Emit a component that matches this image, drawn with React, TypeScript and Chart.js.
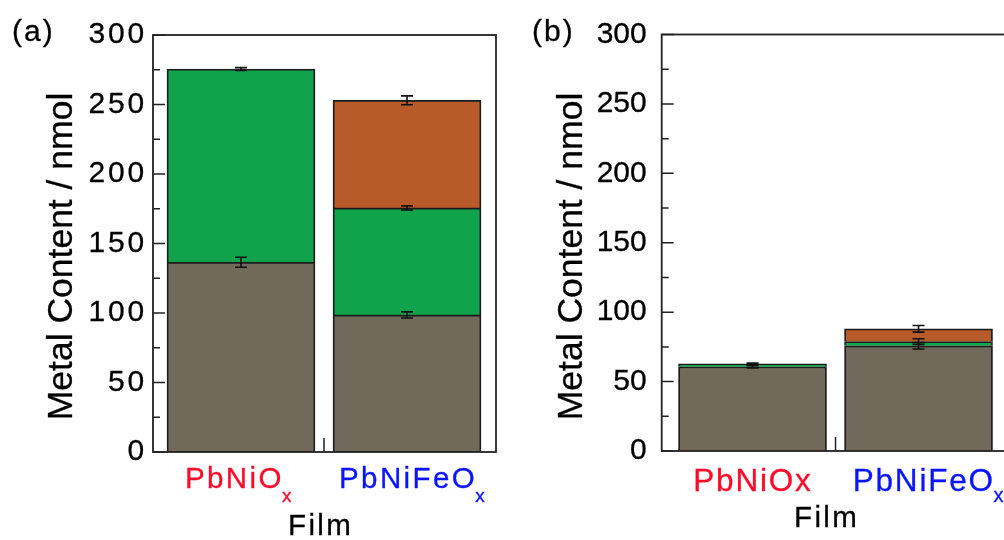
import React, { useEffect, useRef } from "react";
import { Chart, registerables } from "chart.js";

Chart.register(...registerables);

// ---------- data ----------
const films = ["PbNiOx", "PbNiFeOx"];
const seriesNames = ["Pb", "Ni", "Fe"];

// panel (a)
const pbA: (number | null)[] = [136.5, 98.6];
const niA: (number | null)[] = [139, 77];
const feA: (number | null)[] = [null, 77.4];
const pbErrA = [3.6, 2.2];
const niErrA = [1, 1.5];
const feErrA = [0, 3.2];
const xMainA = ["PbNiO", "PbNiFeO"];
const xSubA = ["x", "x"];

// panel (b)
const pbB: (number | null)[] = [60.7, 75.8];
const niB: (number | null)[] = [2, 3];
const feB: (number | null)[] = [null, 9.2];
const pbErrB = [0.8, 2.3];
const niErrB = [0.6, 2];
const feErrB = [0, 2.4];
const xMainB = ["PbNiOx", "PbNiFeO"];
const xSubB = ["", "x"];

const yMin = 0;
const yMax = 300;
const yStep = 50;
const yMinorStep = 25;

const yTitle = "Metal Content / nmol";
const xTitle = "Film";

// ---------- styles ----------
const COLORS = ["#716a5a", "#11a34b", "#b85a2a"];
const LABEL_COLORS = ["#ff0a2a", "#0a14ff"];
const FONT = '"Liberation Sans", Arial, sans-serif';
const TEXT_STROKE = 0.3;

type Panel = {
  tag: string;
  series: (number | null)[][];
  errors: number[][];
  xMain: string[];
  xSub: string[];
  canvasLeft: number;
  width: number;
  axisWidth: number;
  padTop: number;
  padBottom: number;
  padRight: number;
  xMin: number;
  xMax: number;
  tickPad: number;
  tickSpacing: number;
  tagX: number;
  titleX: number;
  labelOffsets: number[];
  labelSize: number;
  labelSpacing: number;
  labelBase: number;
  subSize: number;
  subBase: number;
  filmX: number;
  filmBase: number;
};

const PANEL_A: Panel = {
  tag: "(a)",
  series: [pbA, niA, feA],
  errors: [pbErrA, niErrA, feErrA],
  xMain: xMainA,
  xSub: xSubA,
  canvasLeft: 0,
  width: 500,
  axisWidth: 153,
  padTop: 35,
  padBottom: 88,
  padRight: 4,
  xMin: -0.53,
  xMax: 1.536,
  tickPad: 6,
  tickSpacing: 2.8,
  tagX: 12,
  titleX: 72,
  labelOffsets: [-56, -68],
  labelSize: 29.5,
  labelSpacing: 2.4,
  labelBase: 488,
  subSize: 19,
  subBase: 502,
  filmX: 288,
  filmBase: 535,
};

const PANEL_B: Panel = {
  tag: "(b)",
  series: [pbB, niB, feB],
  errors: [pbErrB, niErrB, feErrB],
  xMain: xMainB,
  xSub: xSubB,
  canvasLeft: 500,
  width: 520,
  axisWidth: 161.7,
  padTop: 34.5,
  padBottom: 89,
  padRight: 10,
  xMin: -0.547,
  xMax: 1.551,
  tickPad: 15,
  tickSpacing: 0,
  tagX: 32,
  titleX: 81.7,
  labelOffsets: [-59.2, -65.8],
  labelSize: 31.5,
  labelSpacing: 1.8,
  labelBase: 491,
  subSize: 20,
  subBase: 502,
  filmX: 294,
  filmBase: 527,
};

function drawText(ctx: CanvasRenderingContext2D, s: string, x: number, y: number) {
  ctx.fillText(s, x, y);
  ctx.lineWidth = TEXT_STROKE;
  ctx.strokeStyle = ctx.fillStyle as string;
  ctx.strokeText(s, x, y);
}

function makeChart(canvas: HTMLCanvasElement, p: Panel) {
  const decor = {
    id: "decor" + p.tag,
    beforeDraw(chart: any) {
      (chart.ctx as any).letterSpacing = p.tickSpacing + "px";
    },
    afterDatasetsDraw(chart: any) {
      const ctx = chart.ctx as CanvasRenderingContext2D;
      const ys = chart.scales.y;
      const xs = chart.scales.x;
      const ca = chart.chartArea;
      ctx.save();
      // error bars
      ctx.strokeStyle = "#111";
      ctx.lineWidth = 1.6;
      for (let i = 0; i < films.length; i++) {
        let cum = 0;
        const cx = xs.getPixelForValue(i);
        for (let s = 0; s < p.series.length; s++) {
          const v = p.series[s][i];
          if (v == null) continue;
          cum += v;
          const e = p.errors[s][i];
          if (!e) continue;
          const y1 = ys.getPixelForValue(cum + e);
          const y2 = ys.getPixelForValue(cum - e);
          ctx.beginPath();
          ctx.moveTo(cx, y1);
          ctx.lineTo(cx, y2);
          ctx.moveTo(cx - 6, y1);
          ctx.lineTo(cx + 6, y1);
          ctx.moveTo(cx - 6, y2);
          ctx.lineTo(cx + 6, y2);
          ctx.stroke();
        }
      }
      // frame
      ctx.strokeStyle = "#222";
      ctx.lineWidth = 1.8;
      ctx.strokeRect(ca.left, ca.top, ca.right - ca.left, ca.bottom - ca.top);
      // inward ticks on y axis
      ctx.lineWidth = 1.5;
      ctx.beginPath();
      for (let v = yMin; v <= yMax; v += yMinorStep) {
        const y = ys.getPixelForValue(v);
        const len = v % yStep === 0 ? 12 : 7;
        ctx.moveTo(ca.left, y);
        ctx.lineTo(ca.left + len, y);
      }
      // category boundary tick
      const bx = xs.getPixelForValue(0.5);
      ctx.moveTo(bx, ca.bottom);
      ctx.lineTo(bx, ca.bottom - 14);
      ctx.stroke();
      ctx.restore();
    },
    afterDraw(chart: any) {
      const ctx = chart.ctx as CanvasRenderingContext2D;
      const xs = chart.scales.x;
      ctx.save();
      ctx.textBaseline = "alphabetic";
      ctx.textAlign = "left";
      ctx.fillStyle = "#000";
      // panel tag
      (ctx as any).letterSpacing = "2px";
      ctx.font = `30px ${FONT}`;
      drawText(ctx, p.tag, p.tagX, 41);
      // x labels
      for (let i = 0; i < films.length; i++) {
        const x0 = xs.getPixelForValue(i) + p.labelOffsets[i];
        ctx.fillStyle = LABEL_COLORS[i];
        (ctx as any).letterSpacing = p.labelSpacing + "px";
        ctx.font = `${p.labelSize}px ${FONT}`;
        drawText(ctx, p.xMain[i], x0, p.labelBase);
        const w = ctx.measureText(p.xMain[i]).width;
        if (p.xSub[i]) {
          (ctx as any).letterSpacing = "0px";
          ctx.font = `${p.subSize}px ${FONT}`;
          drawText(ctx, p.xSub[i], x0 + w - p.labelSpacing + 0.5, p.subBase);
        }
      }
      // x title
      ctx.fillStyle = "#000";
      (ctx as any).letterSpacing = "2.4px";
      ctx.font = `29.5px ${FONT}`;
      drawText(ctx, xTitle, p.filmX, p.filmBase);
      // y title
      (ctx as any).letterSpacing = "0px";
      ctx.font = `35.5px ${FONT}`;
      ctx.textAlign = "center";
      ctx.translate(p.titleX, 256.5);
      ctx.rotate(-Math.PI / 2);
      drawText(ctx, yTitle, 0, 0);
      ctx.restore();
    },
  };

  return new Chart(canvas, {
    type: "bar",
    data: {
      datasets: p.series.map((arr, s) => ({
        label: seriesNames[s],
        data: arr.map((v, i) => ({ x: i, y: v })),
        backgroundColor: COLORS[s],
        borderColor: "#1c1c1c",
        borderWidth: 1.8,
        barThickness: 148,
        stack: "s",
      })) as any,
    },
    options: {
      responsive: false,
      animation: false,
      devicePixelRatio: 1,
      layout: {
        padding: { left: 0, right: p.padRight, top: p.padTop, bottom: p.padBottom },
      },
      plugins: {
        legend: { display: false },
        tooltip: { enabled: false },
      },
      scales: {
        x: {
          type: "linear",
          min: p.xMin,
          max: p.xMax,
          offset: false,
          display: false,
        },
        y: {
          type: "linear",
          min: yMin,
          max: yMax,
          stacked: true,
          position: "left",
          grid: { display: false, drawTicks: false },
          border: { display: false },
          ticks: {
            stepSize: yStep,
            padding: p.tickPad,
            color: "#000",
            textStrokeColor: "#000",
            textStrokeWidth: TEXT_STROKE,
            font: { family: FONT, size: 30 },
          },
          afterFit: (scale: any) => {
            scale.width = p.axisWidth;
          },
        },
      },
    } as any,
    plugins: [decor as any],
  });
}

export default function App() {
  const refA = useRef<HTMLCanvasElement>(null);
  const refB = useRef<HTMLCanvasElement>(null);

  useEffect(() => {
    const a = makeChart(refA.current!, PANEL_A);
    const b = makeChart(refB.current!, PANEL_B);
    return () => {
      a.destroy();
      b.destroy();
    };
  }, []);

  return (
    <div
      style={{
        position: "fixed",
        left: 0,
        top: 0,
        width: 1004,
        height: 540,
        overflow: "hidden",
        background: "#fff",
      }}
    >
      <canvas
        ref={refA}
        width={PANEL_A.width}
        height={540}
        style={{ position: "absolute", left: PANEL_A.canvasLeft, top: 0 }}
      />
      <canvas
        ref={refB}
        width={PANEL_B.width}
        height={540}
        style={{ position: "absolute", left: PANEL_B.canvasLeft, top: 0 }}
      />
    </div>
  );
}
